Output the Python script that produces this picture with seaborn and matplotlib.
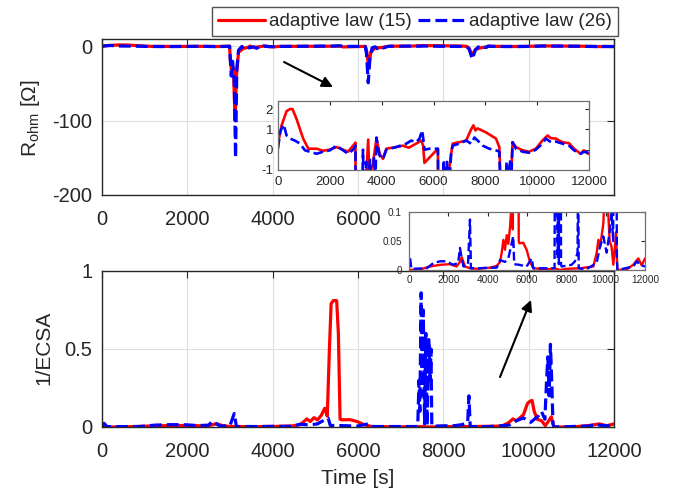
import matplotlib
matplotlib.use("Agg")
import matplotlib.pyplot as plt
import seaborn as sns

# ---------------- data ----------------
# R_ohm, adaptive law (15)
t_r_top = [0, 140, 330, 460, 560, 720, 970, 1170, 1490, 1740, 2000, 2260, 2510, 2700, 2900, 2990,
           3010, 3040, 3080, 3120, 3150, 3200, 3300, 3400, 3480, 3520, 3650, 3800, 3920, 4050, 4180,
           4560, 4820, 5050, 5330, 5530, 5600, 5650, 6170, 6200, 6250, 6300, 6400, 6550, 6680, 6740,
           7000, 7260, 7450, 7540, 7620, 7700, 8030, 8410, 8540, 8600, 8680, 8750, 8900, 9000, 9050,
           9180, 9440, 9690, 9950, 10200, 10400, 10530, 10720, 10970, 11230, 11420, 11680, 11800, 11970, 12000]
v_r_top = [0.3, 1.2, 1.9, 2.0, 2.0, 1.5, 0.55, 0.05, 0.05, -0.05, 0.0, 0.13, 0.0, -0.1, 0.2, 0.35,
           -20, -35, -30, -100, -40, -8, -3, -1.5, 0.5, -1.2, -0.8, 0.55, -0.2, -0.45, 0.05,
           0.13, 0.2, 0.1, 0.3, 0.45, 0.2, -0.65, 0.05, -5, -28, -8, -2, -1.5, -0.2, 0.3,
           0.37, 0.45, 1.0, 1.2, 0.95, 1.05, 0.85, 0.55, 0.13, -2, -12, -4, -1.5, -1.2, 0.37,
           0.13, -0.03, -0.1, 0.05, 0.45, 0.7, 0.57, 0.55, 0.37, 0.32, 0.05, -0.2, -0.03, -0.2, -0.2]

# R_ohm, adaptive law (26)
t_b_top = [0, 80, 200, 270, 330, 460, 650, 850, 1040, 1230, 1490, 1740, 2000, 2260, 2510, 2700, 2900, 2990,
           3000, 3030, 3060, 3100, 3130, 3160, 3200, 3280, 3320, 3400, 3450, 3550, 3620, 3700, 3760, 3800,
           3920, 4050, 4180, 4560, 4950, 5140, 5330, 5460, 5560, 5600, 5650, 5850, 6170, 6200, 6240, 6280,
           6330, 6400, 6450, 6520, 6600, 6680, 6740, 7000, 7260, 7450, 7580, 7770, 7900, 8150, 8410, 8540,
           8600, 8680, 8750, 8820, 8880, 8950, 9000, 9050, 9180, 9440, 9690, 9950, 10200, 10330, 10530,
           10720, 10970, 11230, 11420, 11680, 11800, 11970, 12000]
v_b_top = [0.05, 0.85, 1.25, 1.0, 0.7, 0.55, 0.45, 0.3, -0.03, -0.1, -0.2, -0.1, -0.03, 0.2, -0.03, -0.2, 0.0, 0.2,
           -10, -40, -20, -45, -150, -30, -5, 0.0, -3, -0.6, -2, -0.5, -2.5, -0.4, -1.5, 0.6,
           -0.3, -0.45, 0.0, 0.13, 0.3, 0.45, 0.37, 0.55, 0.95, 0.6, 0.0, 0.05, 0.05, -10, -49, -15,
           -2, -0.5, -3, -0.6, -2, -0.2, 0.2, 0.3, 0.45, 0.3, 0.6, 0.37, 0.2, 0.05, -0.03, -0.1,
           -3, -17, -5, -0.6, -2, -0.5, -1.5, 0.37, 0.05, -0.1, -0.15, 0.0, 0.3, 0.55, 0.37,
           0.4, 0.3, 0.2, -0.03, -0.2, -0.1, -0.15, -0.15]

# 1/ECSA, adaptive law (15)
t_r_bot = [0, 560, 1070, 1580, 2080, 2420, 2590, 2680, 2850, 3100, 3500, 4120, 4460, 4630, 4710, 4800,
           4880, 4970, 5050, 5140, 5220, 5280, 5330, 5370, 5420, 5500, 5540, 5580, 5610, 5810, 5980,
           6150, 6320, 7000, 7400, 7680, 8000, 8700, 9370, 9540, 9630, 9720, 9880, 9970, 10030, 10080,
           10130, 10200, 10300, 10390, 10470, 10530, 10590, 11070, 11400, 11660, 11830, 12000]
v_r_bot = [0.0, 0.001, 0.006, 0.009, 0.01, 0.006, 0.014, 0.022, 0.006, 0.003, 0.002, 0.004, 0.007, 0.014, 0.029, 0.052,
           0.035, 0.06, 0.045, 0.075, 0.12, 0.07, 0.5, 0.79, 0.81, 0.81, 0.6, 0.05, 0.046, 0.047, 0.035,
           0.014, 0.003, 0.001, 0.003, 0.0, 0.002, 0.003, 0.006, 0.029, 0.052, 0.04, 0.08, 0.15, 0.165, 0.17,
           0.1, 0.05, 0.04, 0.009, 0.04, 0.065, 0.0, 0.001, 0.009, 0.02, 0.008, 0.02]

# 1/ECSA, adaptive law (26)
t_b_bot = [0, 50, 120, 900, 1240, 1580, 1900, 2240, 2500, 2590, 2680, 2770, 3000, 3100, 3150, 3600, 4000,
           4460, 4630, 4880, 5050, 5220, 5300, 5350, 5600, 5980, 6240, 6320, 7170, 7400, 7430, 7450, 7480,
           7500, 7530, 7560, 7590, 7620, 7660, 7690, 7710, 7730, 7760, 8270, 8440, 8570, 8600, 8630, 9000,
           9540, 9710, 9880, 10050, 10220, 10300, 10380, 10420, 10450, 10480, 10510, 10540, 10570, 10600,
           11000, 11400, 11580, 11750, 12000]
v_b_bot = [0.005, 0.023, 0.002, 0.003, 0.012, 0.015, 0.015, 0.009, 0.012, 0.038, 0.02, 0.006, 0.009, 0.087, 0.003, 0.003, 0.004,
           0.004, 0.017, 0.014, 0.02, 0.046, 0.058, 0.01, 0.009, 0.006, 0.02, 0.003, 0.003, 0.003, 0.3, 0.1, 0.86,
           0.2, 0.75, 0.02, 0.6, 0.01, 0.56, 0.3, 0.5, 0.01, 0.006, 0.009, 0.015, 0.03, 0.2, 0.003, 0.001,
           0.012, 0.04, 0.058, 0.03, 0.07, 0.1, 0.05, 0.3, 0.45, 0.2, 0.53, 0.3, 0.02, 0.0,
           0.003, 0.006, 0.015, 0.009, 0.006]

x_ticks = [0, 2000, 4000, 6000, 8000, 10000, 12000]
top_xticklabels = ["0", "2000", "4000", "6000", "", "", ""]
labels = ["adaptive law (15)", "adaptive law (26)"]

# ---------------- style ----------------
sns.set_style("white")
plt.rcParams["font.family"] = ["Liberation Sans", "DejaVu Sans"]
plt.rcParams["axes.unicode_minus"] = False
plt.rcParams["mathtext.fontset"] = "custom"
plt.rcParams["mathtext.rm"] = "Liberation Sans"
plt.rcParams["mathtext.it"] = "Liberation Sans:italic"

RED = "#ff0000"
BLUE = "#0000ff"
EDGE = "#262626"
GRID = "#dedede"

fig = plt.figure(figsize=(6.73, 4.93), dpi=100)
W, H = 673, 493


def px_axes(x0, y0, x1, y1):
    return fig.add_axes([x0 / W, 1 - y1 / H, (x1 - x0) / W, (y1 - y0) / H])


def style(ax, size, pad_x, pad_y, edge, lw_frame, tick_len):
    for s in ax.spines.values():
        s.set_color(edge)
        s.set_linewidth(lw_frame)
    ax.tick_params(axis="both", direction="in", top=True, right=True, labelsize=size,
                   colors=EDGE, length=tick_len, width=0.8)
    ax.tick_params(axis="x", pad=pad_x)
    ax.tick_params(axis="y", pad=pad_y)
    ax.set_xlabel("")
    ax.set_ylabel("")


def draw(ax, tr, vr, tb, vb, lw, legend=False):
    sns.lineplot(x=tr, y=vr, ax=ax, color=RED, linewidth=lw, estimator=None, sort=False,
                 label=labels[0] if legend else None)
    sns.lineplot(x=tb, y=vb, ax=ax, color=BLUE, linewidth=lw, linestyle="--", estimator=None,
                 sort=False, label=labels[1] if legend else None)


# top main
ax1 = px_axes(102, 39, 614, 195)
draw(ax1, t_r_top, v_r_top, t_b_top, v_b_top, 2.3, legend=True)
ax1.set_xlim(0, 12000)
ax1.set_ylim(-200, 10)
ax1.set_xticks(x_ticks)
ax1.set_xticklabels(top_xticklabels)
ax1.set_yticks([-200, -100, 0])
ax1.grid(True, color=GRID, linewidth=0.8)
style(ax1, 14.5, 11, 7, EDGE, 1.0, 5)
ax1.set_ylabel(r"R$_{\mathrm{ohm}}$ [Ω]", fontsize=15, color=EDGE)
ax1.yaxis.set_label_coords(-0.118, 0.49)

handles, labs = ax1.get_legend_handles_labels()
ax1.get_legend().remove()
leg = fig.legend(handles, labs, loc="center", bbox_to_anchor=(415 / W, 1 - 21.5 / H),
                 bbox_transform=fig.transFigure, ncol=2, fontsize=13.5, frameon=True,
                 fancybox=False, edgecolor=EDGE, handlelength=2.5, handletextpad=0.25,
                 columnspacing=0.3, borderpad=0.3, borderaxespad=0)
leg.get_frame().set_linewidth(1.0)

# bottom main
ax2 = px_axes(102, 271, 614, 427)
draw(ax2, t_r_bot, v_r_bot, t_b_bot, v_b_bot, 2.3)
ax2.set_xlim(0, 12000)
ax2.set_ylim(0, 1)
ax2.set_xticks(x_ticks)
ax2.set_yticks([0, 0.5, 1])
ax2.set_yticklabels(["0", "0.5", "1"])
ax2.grid(True, color=GRID, linewidth=0.8)
style(ax2, 14.5, 11, 7, EDGE, 1.0, 5)
ax2.set_ylabel("1/ECSA", fontsize=15, color=EDGE)
ax2.yaxis.set_label_coords(-0.094, 0.51)
ax2.set_xlabel("Time [s]", fontsize=15, color=EDGE)
ax2.xaxis.set_label_coords(0.5, -0.27)

# top inset
ax3 = px_axes(278, 101, 589, 170)
draw(ax3, t_r_top, v_r_top, t_b_top, v_b_top, 1.9)
ax3.set_xlim(0, 12000)
ax3.set_ylim(-1, 2.4)
ax3.set_xticks(x_ticks)
ax3.set_yticks([-1, 0, 1, 2])
style(ax3, 9.5, 4, 3.5, "#707070", 0.9, 3)

# bottom inset
ax4 = px_axes(409, 212, 645, 270)
draw(ax4, t_r_bot, v_r_bot, t_b_bot, v_b_bot, 1.7)
ax4.set_xlim(0, 12000)
ax4.set_ylim(0, 0.1)
ax4.set_xticks(x_ticks)
ax4.set_yticks([0, 0.05, 0.1])
ax4.set_yticklabels(["0", "0.05", "0.1"])
style(ax4, 7.2, 3.5, 5, "#707070", 0.9, 3)

# arrows
ap = dict(arrowstyle="-|>", color="black", lw=1.5, mutation_scale=16, shrinkA=0, shrinkB=0)
fig.add_artist(plt.Annotation("", xy=(333 / W, 1 - 87 / H), xytext=(284 / W, 1 - 62 / H),
                              xycoords="figure fraction", textcoords="figure fraction", arrowprops=ap))
fig.add_artist(plt.Annotation("", xy=(531 / W, 1 - 300 / H), xytext=(500 / W, 1 - 377 / H),
                              xycoords="figure fraction", textcoords="figure fraction", arrowprops=ap))

fig.savefig("out.png", dpi=100)
